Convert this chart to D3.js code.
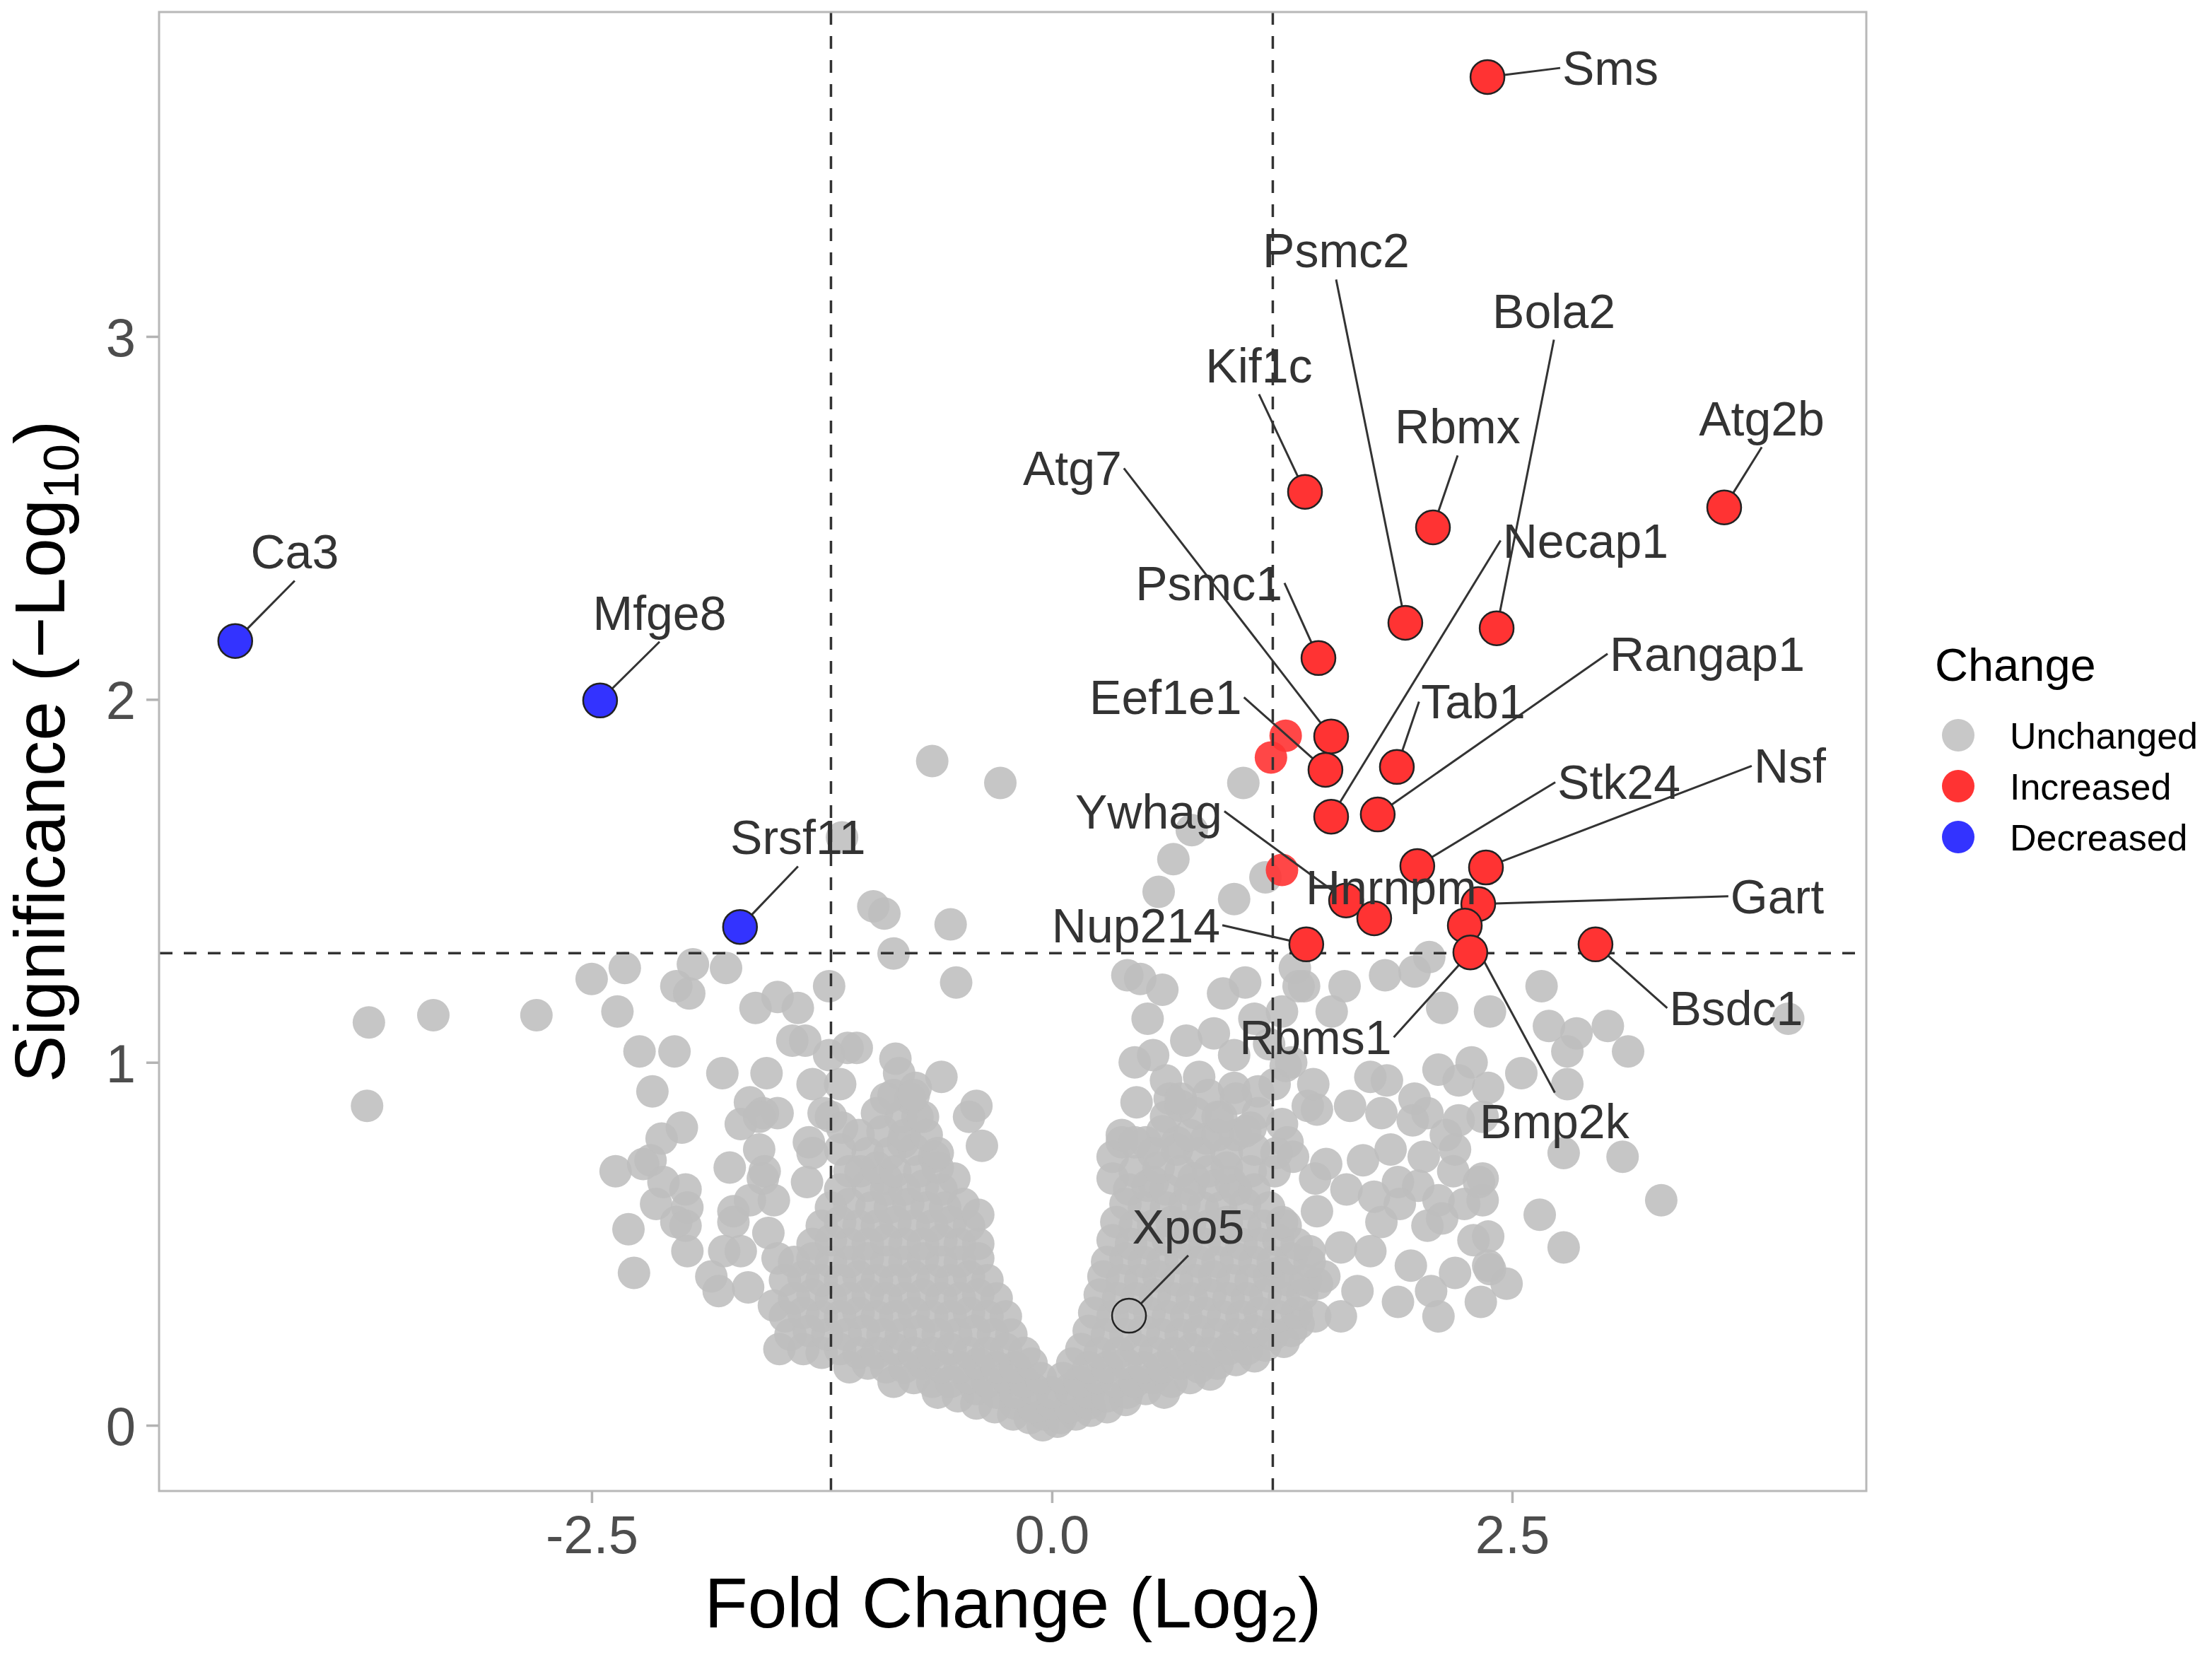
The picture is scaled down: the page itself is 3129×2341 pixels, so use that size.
<!DOCTYPE html>
<html>
<head>
<meta charset="utf-8">
<script src="https://cdn.jsdelivr.net/npm/d3@7"></script>
<style>
  body { margin: 0; background: #ffffff; }
  text { font-family: "Liberation Sans", Arial, Helvetica, sans-serif; }
</style>
</head>
<body>
<svg id="fig" width="3129" height="2341"></svg>
<script>
// ---- data (log2 fold change, -log10 p) ----
var grayPoints = [
  // far left and left arm
  [-3.71,1.11],[-3.36,1.13],[-2.80,1.13],[-2.50,1.23],[-2.32,1.26],[-2.36,1.14],[-1.95,1.27],[-2.04,1.21],
  [-1.97,1.19],[-1.77,1.26],[-1.61,1.15],[-1.49,1.18],[-2.24,1.03],[-2.05,1.03],[-1.79,0.97],[-1.55,0.97],
  [-2.17,0.92],[-3.72,0.88],[-1.64,0.89],[-1.49,0.86],[-1.57,0.86],[-1.69,0.83],[-2.01,0.82],[-2.12,0.79],
  [-1.59,0.76],[-2.37,0.70],[-2.22,0.72],[-2.18,0.73],[-2.11,0.67],[-1.75,0.71],[-1.56,0.70],[-1.99,0.65],
  [-2.15,0.61],[-1.98,0.60],[-1.64,0.62],[-1.73,0.59],[-1.51,0.62],[-2.30,0.54],[-2.04,0.56],[-1.99,0.55],
  [-1.73,0.56],[-1.54,0.53],[-1.98,0.48],[-1.78,0.48],[-1.69,0.48],[-1.49,0.46],[-2.27,0.42],[-1.85,0.41],
  [-1.81,0.37],[-1.65,0.38],[-1.51,0.33],[-1.48,0.21],[-1.41,1.06],
  // middle, around the thresholds
  [-0.65,1.83],[-0.28,1.77],[-1.14,1.62],[1.04,1.77],[0.76,1.64],[0.66,1.56],[1.16,1.51],[0.58,1.47],
  [0.99,1.45],[-0.97,1.43],[-0.91,1.41],[-0.55,1.38],[-0.86,1.30],[-1.21,1.21],[-0.52,1.22],[0.41,1.24],
  [0.48,1.23],[0.60,1.20],[0.93,1.19],[1.05,1.22],[1.32,1.26],[1.37,1.21],[-1.38,1.15],[0.73,1.06],
  [0.88,1.08],[0.99,1.02],[-1.34,1.06],[-1.21,1.02],[-1.11,1.04],[-1.06,1.04],[-0.85,1.01],[-0.60,0.96],
  [-1.30,0.94],[-1.15,0.94],[0.80,0.96],[0.99,0.93],[1.21,0.94],[-1.24,0.86],[-0.86,0.91],[-0.77,0.90],
  [-0.73,0.85],[0.46,0.89],[0.64,0.90],[1.39,0.88],[-1.59,0.85],[-1.14,0.82],[0.38,0.78],[0.51,0.78],
  [0.68,0.78],[0.84,0.79],[1.08,0.82],[1.28,0.78],[-0.38,0.77],[-0.81,0.78],[-1.32,0.78],[-1.57,0.68],
  [-1.33,0.67],[-1.04,0.70],[-0.90,0.68],[-0.64,0.74],[-0.53,0.68],[0.33,0.68],[0.55,0.67],[0.77,0.68],
  [0.97,0.67],[1.21,0.70],[1.43,0.68],
  [0.55,1.02],[0.62,0.95],[0.70,0.88],[0.90,0.85],[1.00,0.80],[1.12,0.86],[1.18,1.05],[1.30,1.00],
  [0.45,1.00],[0.52,1.12],[1.10,1.12],[1.25,1.14],[-0.83,0.97],[-0.74,0.93],[-0.41,0.88],[-0.45,0.85],
  // right arm
  [2.05,1.29],[1.81,1.24],[1.97,1.25],[2.66,1.21],[2.12,1.15],[2.38,1.14],[1.59,1.21],[1.34,1.21],
  [1.52,1.14],[2.70,1.10],[2.85,1.08],[3.02,1.10],[2.80,1.03],[3.13,1.03],[2.80,0.94],[2.55,0.97],
  [2.10,0.98],[2.28,1.00],[2.21,0.95],[2.37,0.93],[4.00,1.12],[3.31,0.62],[2.65,0.58],[2.78,0.49],
  [2.78,0.75],[3.10,0.74],[2.34,0.68],[2.24,0.61],[2.37,0.52],[2.38,0.43],[2.47,0.39],[2.33,0.34],
  [2.19,0.42],[2.06,0.37],[1.95,0.44],[1.73,0.48],[1.79,0.56],[2.04,0.55],[2.10,0.62],[1.88,0.67],
  [1.75,0.63],[1.69,0.73],[1.84,0.76],[2.02,0.74],[2.19,0.76],[2.21,0.84],[2.04,0.86],[1.79,0.86],
  [1.62,0.88],[1.44,0.87],[1.73,0.96],[1.82,0.95],[1.97,0.90],[1.42,0.94],[1.27,0.99],[1.12,0.92],
  [1.25,0.83],[1.31,0.74],[1.49,0.72],[1.60,0.65],[1.44,0.59],[1.57,0.49],[1.40,0.48],[1.27,0.55],
  [1.23,0.42],[1.44,0.39],[1.66,0.37],[1.88,0.34],[2.10,0.30],[1.57,0.30],[1.34,0.28],
  [2.37,0.44],[2.29,0.51],[2.34,0.62],[2.32,0.67],[2.18,0.70],[1.99,0.66],[1.89,0.61],[2.12,0.57],
  [2.14,0.80],[1.96,0.84],[2.34,0.85],
  // dense core of the volcano
  [-0.05,0.00],[0.03,0.01],
  [-0.21,0.03],[-0.12,0.02],[-0.04,0.03],[0.05,0.02],[0.13,0.03],[0.21,0.04],
  [-0.41,0.06],[-0.31,0.05],[-0.20,0.06],[-0.10,0.05],[0.00,0.06],[0.10,0.05],[0.20,0.06],[0.30,0.05],[0.40,0.07],
  [-0.62,0.09],[-0.51,0.08],[-0.41,0.10],[-0.30,0.09],[-0.20,0.09],[-0.10,0.10],[0.00,0.09],[0.10,0.10],
  [0.20,0.09],[0.30,0.08],[0.41,0.09],[0.51,0.10],[0.61,0.09],
  [-0.86,0.12],[-0.75,0.13],[-0.65,0.12],[-0.55,0.12],[-0.45,0.13],[-0.35,0.12],[-0.25,0.13],[-0.15,0.12],
  [-0.06,0.13],[0.06,0.13],[0.15,0.12],[0.25,0.13],[0.35,0.12],[0.45,0.12],[0.55,0.13],[0.65,0.12],
  [0.75,0.13],[0.86,0.14],
  [-1.10,0.16],[-1.00,0.17],[-0.90,0.16],[-0.80,0.16],[-0.70,0.17],[-0.60,0.16],[-0.50,0.16],[-0.40,0.17],
  [-0.30,0.16],[-0.20,0.16],[-0.11,0.17],[0.11,0.17],[0.20,0.16],[0.30,0.16],[0.40,0.17],[0.50,0.16],
  [0.60,0.16],[0.70,0.17],[0.80,0.16],[0.90,0.17],[1.00,0.18],[1.10,0.19],
  [-1.35,0.21],[-1.25,0.20],[-1.15,0.21],[-1.05,0.20],[-0.95,0.20],[-0.85,0.21],[-0.75,0.20],[-0.65,0.20],
  [-0.55,0.21],[-0.45,0.20],[-0.35,0.20],[-0.25,0.21],[-0.15,0.20],[0.16,0.21],[0.26,0.20],[0.36,0.20],
  [0.46,0.21],[0.56,0.20],[0.66,0.20],[0.76,0.21],[0.86,0.20],[0.96,0.21],[1.06,0.21],[1.16,0.22],[1.26,0.23],
  [-1.42,0.25],[-1.32,0.26],[-1.22,0.25],[-1.12,0.25],[-1.02,0.26],[-0.92,0.25],[-0.82,0.25],[-0.72,0.26],
  [-0.62,0.25],[-0.52,0.25],[-0.42,0.26],[-0.32,0.25],[-0.22,0.25],[0.20,0.26],[0.30,0.25],[0.40,0.25],
  [0.50,0.26],[0.60,0.25],[0.70,0.25],[0.80,0.26],[0.90,0.25],[1.00,0.25],[1.10,0.26],[1.20,0.25],[1.30,0.26],
  [-1.45,0.30],[-1.35,0.31],[-1.25,0.30],[-1.15,0.30],[-1.05,0.31],[-0.95,0.30],[-0.85,0.30],[-0.75,0.31],
  [-0.65,0.30],[-0.55,0.30],[-0.45,0.31],[-0.35,0.30],[-0.25,0.30],[0.23,0.31],[0.33,0.30],[0.43,0.30],
  [0.53,0.31],[0.63,0.30],[0.73,0.30],[0.83,0.31],[0.93,0.30],[1.03,0.30],[1.13,0.31],[1.23,0.30],
  [1.33,0.31],[1.43,0.30],
  [-1.40,0.35],[-1.30,0.36],[-1.20,0.35],[-1.10,0.35],[-1.00,0.36],[-0.90,0.35],[-0.80,0.35],[-0.70,0.36],
  [-0.60,0.35],[-0.50,0.35],[-0.40,0.36],[-0.30,0.35],[0.26,0.36],[0.36,0.35],[0.46,0.35],[0.56,0.36],
  [0.66,0.35],[0.76,0.35],[0.86,0.36],[0.96,0.35],[1.06,0.35],[1.16,0.36],[1.26,0.35],[1.36,0.36],
  [-1.45,0.40],[-1.35,0.41],[-1.25,0.40],[-1.15,0.40],[-1.05,0.41],[-0.95,0.40],[-0.85,0.40],[-0.75,0.41],
  [-0.65,0.40],[-0.55,0.40],[-0.45,0.41],[-0.35,0.40],[0.28,0.41],[0.38,0.40],[0.48,0.40],[0.58,0.41],
  [0.68,0.40],[0.78,0.40],[0.88,0.41],[0.98,0.40],[1.08,0.40],[1.18,0.41],[1.28,0.40],[1.38,0.40],[1.48,0.41],
  [-1.40,0.45],[-1.30,0.46],[-1.20,0.45],[-1.10,0.45],[-1.00,0.46],[-0.90,0.45],[-0.80,0.45],[-0.70,0.46],
  [-0.60,0.45],[-0.50,0.45],[-0.40,0.46],[0.30,0.45],[0.40,0.46],[0.50,0.45],[0.60,0.45],[0.70,0.46],
  [0.80,0.45],[0.90,0.45],[1.00,0.46],[1.10,0.45],[1.20,0.45],[1.30,0.46],[1.40,0.45],
  [-1.30,0.50],[-1.20,0.51],[-1.10,0.50],[-1.00,0.50],[-0.90,0.51],[-0.80,0.50],[-0.70,0.50],[-0.60,0.51],
  [-0.50,0.50],[-0.40,0.50],[0.33,0.51],[0.43,0.50],[0.53,0.50],[0.63,0.51],[0.73,0.50],[0.83,0.50],
  [0.93,0.51],[1.03,0.50],[1.13,0.50],[1.23,0.51],[1.33,0.50],
  [-1.25,0.55],[-1.15,0.56],[-1.05,0.55],[-0.95,0.55],[-0.85,0.56],[-0.75,0.55],[-0.65,0.55],[-0.55,0.56],
  [-0.45,0.55],[0.35,0.56],[0.45,0.55],[0.55,0.55],[0.65,0.56],[0.75,0.55],[0.85,0.55],[0.95,0.56],
  [1.05,0.55],[1.15,0.55],[1.25,0.56],
  [-1.20,0.60],[-1.10,0.61],[-0.98,0.60],[-0.88,0.60],[-0.78,0.61],[-0.68,0.60],[-0.58,0.60],[-0.48,0.61],
  [-0.40,0.58],[0.40,0.61],[0.50,0.60],[0.62,0.60],[0.72,0.61],[0.82,0.60],[0.92,0.60],[1.05,0.61],[1.18,0.60],
  [-1.15,0.65],[-1.00,0.66],[-0.90,0.65],[-0.80,0.65],[-0.70,0.66],[-0.60,0.65],[0.42,0.65],[0.52,0.66],
  [0.62,0.65],[0.75,0.65],[0.88,0.66],[1.00,0.65],[1.10,0.65],
  [-1.10,0.70],[-0.95,0.71],[-0.85,0.70],[-0.72,0.70],[-0.62,0.71],[0.45,0.70],[0.58,0.71],[0.70,0.70],
  [0.85,0.70],[0.95,0.71],[1.08,0.70],
  [-1.30,0.75],[-1.15,0.76],[-1.00,0.75],[-0.88,0.75],[-0.75,0.76],[-0.62,0.75],[0.33,0.74],[0.55,0.75],
  [0.68,0.76],[0.80,0.75],[0.95,0.75],[1.10,0.76],[1.22,0.75],
  [-1.05,0.80],[-0.92,0.81],[-0.80,0.80],[-0.68,0.80],[0.38,0.80],[0.60,0.81],[0.75,0.80],[0.90,0.80],[1.05,0.81],
  [-1.20,0.85],[-0.95,0.86],[-0.82,0.85],[-0.70,0.85],[0.45,0.78],[0.62,0.85],[0.78,0.86],[0.92,0.85],
  [-0.90,0.90],[-0.75,0.91],[0.70,0.90],[0.85,0.91],[1.00,0.90]
];

// significant points that carry no label
var plainColored = [
  [1.27, 1.90, "Increased"],
  [1.19, 1.84, "Increased"],
  [1.25, 1.53, "Increased"]
];

// gene, fold change, significance, class, label fold change, label significance
var genes = [
  ["Sms",     2.366, 3.715, "Increased", 3.034, 3.739],
  ["Psmc2",   1.920, 2.211, "Increased", 1.544, 3.236],
  ["Bola2",   2.416, 2.196, "Increased", 2.727, 3.070],
  ["Kif1c",   1.375, 2.572, "Increased", 1.125, 2.920],
  ["Rbmx",    2.070, 2.474, "Increased", 2.204, 2.751],
  ["Atg2b",   3.652, 2.529, "Increased", 3.856, 2.774],
  ["Atg7",    1.517, 1.898, "Increased", 0.111, 2.636],
  ["Psmc1",   1.448, 2.114, "Increased", 0.853, 2.320],
  ["Necap1",  1.517, 1.677, "Increased", 2.899, 2.437],
  ["Eef1e1",  1.486, 1.806, "Increased", 0.618, 2.005],
  ["Tab1",    1.874, 1.814, "Increased", 2.289, 1.993],
  ["Rangap1", 1.770, 1.683, "Increased", 3.560, 2.125],
  ["Stk24",   1.985, 1.541, "Increased", 3.080, 1.771],
  ["Nsf",     2.358, 1.537, "Increased", 4.009, 1.816],
  ["Ywhag",   1.598, 1.446, "Increased", 0.526, 1.691],
  ["Hnrnpm",  1.751, 1.397, "Increased", 1.843, 1.481],
  ["Gart",    2.316, 1.436, "Increased", 3.940, 1.457],
  ["Bmp2k",   2.243, 1.377, "Increased", 2.730, 0.836],
  ["Rbms1",   2.273, 1.303, "Increased", 1.432, 1.068],
  ["Bsdc1",   2.953, 1.325, "Increased", 3.717, 1.149],
  ["Nup214",  1.382, 1.325, "Increased", 0.457, 1.377],
  ["Xpo5",    0.419, 0.302, "Unchanged", 0.741, 0.547],
  ["Ca3",    -4.436, 2.161, "Decreased", -4.113, 2.406],
  ["Mfge8",  -2.454, 1.997, "Decreased", -2.131, 2.238],
  ["Srsf11", -1.694, 1.373, "Decreased", -1.379, 1.619]
];

var levels = ["Unchanged", "Increased", "Decreased"];
var levelColors = ["#c8c8c8", "#ff3333", "#3333ff"];
var xTicks = [-2.5, 0, 2.5];
var yTicks = [0, 1, 2, 3];
var fcCut = 1.2;
var sigCut = 1.301;
var xDomain = [-4.846, 4.424];
var yDomain = [-0.181, 3.894];

// ---- drawing ----
function makeSVG() {
    var svg = d3.select("#fig");
    var pLeft = 226, pRight = 2640, pTop = 17, pBottom = 2109;

    var sx = d3.scaleLinear().domain(xDomain).range([pLeft, pRight]);
    var sy = d3.scaleLinear().domain(yDomain).range([pBottom, pTop]);
    var color = d3.scaleOrdinal().domain(levels).range(levelColors);

    var pointR = 23;

    svg.append("rect")
       .attr("width", 3129).attr("height", 2341).attr("fill", "#ffffff");

    var plot = svg.append("g");

    plot.selectAll("circle.gray").data(grayPoints)
        .enter().append("circle")
        .attr("class", "gray")
        .attr("cx", d => sx(d[0]))
        .attr("cy", d => sy(d[1]))
        .attr("r", pointR)
        .attr("fill", "#bdbdbd")
        .attr("fill-opacity", 0.87);

    plot.selectAll("circle.plain").data(plainColored)
        .enter().append("circle")
        .attr("class", "plain")
        .attr("cx", d => sx(d[0]))
        .attr("cy", d => sy(d[1]))
        .attr("r", pointR)
        .attr("fill", d => color(d[2]))
        .attr("fill-opacity", 0.9);

    // threshold lines
    var dash = "18,16";
    [-fcCut, fcCut].forEach(function(v) {
        plot.append("line")
            .attr("x1", sx(v)).attr("x2", sx(v))
            .attr("y1", pTop).attr("y2", pBottom)
            .attr("stroke", "#333333").attr("stroke-width", 3.5)
            .attr("stroke-dasharray", dash);
    });
    plot.append("line")
        .attr("x1", pLeft).attr("x2", pRight)
        .attr("y1", sy(sigCut)).attr("y2", sy(sigCut))
        .attr("stroke", "#333333").attr("stroke-width", 3.5)
        .attr("stroke-dasharray", dash);

    // segments under the outlined points, labels on top
    var segG = plot.append("g");
    var dotG = plot.append("g");
    var labelG = plot.append("g");
    var labelSize = 68;

    var labels = labelG.selectAll("text").data(genes)
        .enter().append("text")
        .attr("x", d => sx(d[4]))
        .attr("y", d => sy(d[5]) + 0.3465 * labelSize)
        .attr("text-anchor", "middle")
        .attr("font-size", labelSize)
        .attr("fill", "#333333")
        .text(d => d[0]);

    labels.each(function(d) {
        var b = this.getBBox();
        var pad = 3;
        var px = sx(d[1]), py = sy(d[2]);
        var cx = b.x + b.width / 2, cy = b.y + b.height / 2;
        var cands = [
            [b.x - pad, cy], [b.x + b.width + pad, cy],
            [cx, b.y - pad], [cx, b.y + b.height + pad]
        ];
        var best = cands[0], bd = Infinity;
        cands.forEach(function(c) {
            var dd = Math.hypot(c[0] - px, c[1] - py);
            if (dd < bd) { bd = dd; best = c; }
        });
        if (bd - pointR < 16) return;
        var ux = (best[0] - px) / bd, uy = (best[1] - py) / bd;
        segG.append("line")
            .attr("x1", px + ux * (pointR + 1)).attr("y1", py + uy * (pointR + 1))
            .attr("x2", best[0]).attr("y2", best[1])
            .attr("stroke", "#333333").attr("stroke-width", 3);
    });

    dotG.selectAll("circle").data(genes)
        .enter().append("circle")
        .attr("cx", d => sx(d[1]))
        .attr("cy", d => sy(d[2]))
        .attr("r", pointR + 1)
        .attr("fill", d => d[3] === "Unchanged" ? "none" : color(d[3]))
        .attr("stroke", "#222222")
        .attr("stroke-width", 2.5);

    // panel border
    svg.append("rect")
       .attr("x", 225).attr("y", pTop)
       .attr("width", pRight - 225).attr("height", pBottom - pTop)
       .attr("fill", "none").attr("stroke", "#b8b8b8").attr("stroke-width", 3);

    // axes
    var xAxis = svg.append("g")
        .attr("transform", "translate(0," + (pBottom + 1) + ")")
        .call(d3.axisBottom(sx).tickValues(xTicks).tickFormat(d => d.toFixed(1))
              .tickSize(16).tickPadding(17));
    var yAxis = svg.append("g")
        .attr("transform", "translate(224,0)")
        .call(d3.axisLeft(sy).tickValues(yTicks).tickFormat(d => String(d))
              .tickSize(17).tickPadding(15));

    [xAxis, yAxis].forEach(function(a) {
        a.select(".domain").remove();
        a.selectAll(".tick line").attr("stroke", "#b3b3b3").attr("stroke-width", 3.5);
        a.selectAll(".tick text")
         .attr("font-size", 76)
         .attr("fill", "#4d4d4d")
         .attr("font-family", '"Liberation Sans", Arial, sans-serif');
    });
    yAxis.selectAll(".tick text").attr("dy", "0.36em");

    // axis titles
    var xt = svg.append("text")
        .attr("x", (pLeft + pRight) / 2).attr("y", 2302)
        .attr("text-anchor", "middle").attr("font-size", 100).attr("fill", "#000000");
    xt.append("tspan").text("Fold Change (Log");
    xt.append("tspan").attr("font-size", 70).attr("dy", 20).text("2");
    xt.append("tspan").attr("dy", -20).text(")");

    var yt = svg.append("text")
        .attr("transform", "translate(91," + ((pTop + pBottom) / 2) + ") rotate(-90)")
        .attr("text-anchor", "middle").attr("font-size", 100).attr("fill", "#000000");
    yt.append("tspan").text("Significance (\u2212Log");
    yt.append("tspan").attr("font-size", 70).attr("dy", 20).text("10");
    yt.append("tspan").attr("dy", -20).text(")");

    // legend
    var legend = svg.append("g");
    legend.append("text")
        .attr("x", 2737).attr("y", 963)
        .attr("font-size", 65).attr("fill", "#000000")
        .text("Change");
    var keys = legend.selectAll("g.key").data(levels)
        .enter().append("g")
        .attr("class", "key")
        .attr("transform", (d, i) => "translate(0," + (1040 + i * 72) + ")");
    keys.append("circle")
        .attr("cx", 2770).attr("cy", 0).attr("r", 23)
        .attr("fill", d => color(d));
    keys.append("text")
        .attr("x", 2843).attr("y", 19)
        .attr("font-size", 52).attr("fill", "#000000")
        .text(d => d);
}

makeSVG();
</script>
</body>
</html>
